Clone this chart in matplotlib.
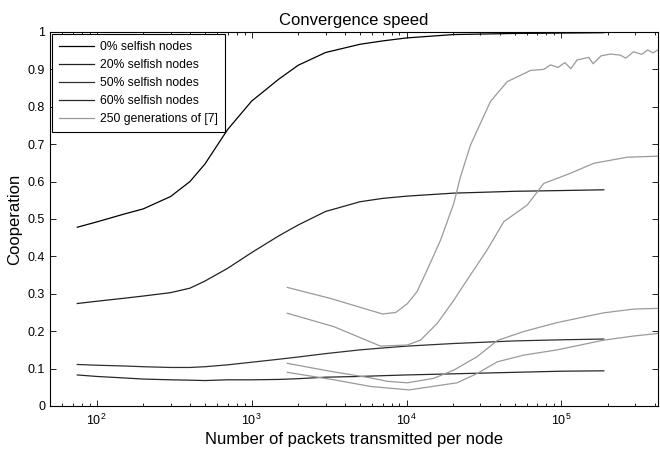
import matplotlib.pyplot as plt
from matplotlib.ticker import LogLocator, FixedLocator

plt.rcParams.update({'font.family': 'Liberation Sans', 'font.size': 9,
                     'mathtext.fontset': 'custom', 'mathtext.rm': 'Liberation Sans',
                     'mathtext.it': 'Liberation Sans'})

# packets transmitted per node (black curves share one grid)
x_black = [75, 100, 150, 200, 300, 400, 500, 700, 1000, 1500, 2000, 3000,
           5000, 7000, 10000, 20000, 50000, 100000, 187500]
coop_0 = [0.478, 0.492, 0.513, 0.527, 0.560, 0.600, 0.647, 0.739, 0.815, 0.874, 0.911, 0.945,
          0.967, 0.976, 0.984, 0.993, 0.996, 0.997, 0.998]
coop_20 = [0.274, 0.280, 0.288, 0.294, 0.303, 0.315, 0.334, 0.368, 0.410, 0.455, 0.484, 0.520,
           0.546, 0.555, 0.561, 0.569, 0.574, 0.576, 0.578]
coop_50 = [0.111, 0.109, 0.107, 0.105, 0.103, 0.103, 0.105, 0.110, 0.117, 0.125, 0.131, 0.140,
           0.150, 0.155, 0.160, 0.167, 0.174, 0.177, 0.179]
coop_60 = [0.083, 0.079, 0.075, 0.072, 0.070, 0.069, 0.068, 0.070, 0.070, 0.071, 0.073, 0.077,
           0.079, 0.081, 0.083, 0.086, 0.090, 0.093, 0.094]

# reference [7], 250 generations
ref_a_x = [1700, 3200, 7000, 8500, 10100, 11700, 13600, 16600, 20200, 22300, 25900, 30000,
           34800, 44600, 63100, 76900, 84900, 95000, 105000, 115000, 126000, 150000, 160000,
           180000, 207000, 240000, 260000, 292000, 330000, 360000, 390000, 420000]
ref_a_y = [0.317, 0.288, 0.246, 0.250, 0.273, 0.306, 0.364, 0.444, 0.542, 0.613, 0.698, 0.756,
           0.814, 0.867, 0.897, 0.900, 0.912, 0.905, 0.918, 0.902, 0.925, 0.932, 0.915,
           0.936, 0.941, 0.938, 0.930, 0.947, 0.940, 0.952, 0.944, 0.952]
ref_b_x = [1700, 3400, 6800, 10100, 12300, 15800, 20200, 24600, 33100, 42500, 60000, 76900,
           114000, 162000, 265000, 420000]
ref_b_y = [0.248, 0.212, 0.160, 0.163, 0.176, 0.221, 0.283, 0.337, 0.417, 0.493, 0.537, 0.595,
           0.622, 0.649, 0.665, 0.668]
ref_c_x = [1700, 3300, 5900, 7500, 10100, 15000, 20200, 28600, 38500, 57000, 93800, 187000,
           292000, 420000]
ref_c_y = [0.114, 0.092, 0.075, 0.066, 0.062, 0.074, 0.096, 0.132, 0.175, 0.199, 0.223, 0.249,
           0.259, 0.261]
ref_d_x = [1700, 3400, 5900, 10400, 21200, 28600, 38500, 57000, 93800, 187000, 292000, 420000]
ref_d_y = [0.090, 0.070, 0.052, 0.043, 0.062, 0.087, 0.118, 0.136, 0.150, 0.176, 0.187, 0.194]

fig = plt.figure(figsize=(6.6, 4.5), dpi=100)
ax = fig.add_axes([0.0758, 0.0978, 0.9212, 0.8312])

ax.plot(x_black, coop_0, color='black', lw=0.9, label='0% selfish nodes')
ax.plot(x_black, coop_20, color='#202020', lw=0.9, label='20% selfish nodes')
ax.plot(x_black, coop_50, color='#303030', lw=0.9, label='50% selfish nodes')
ax.plot(x_black, coop_60, color='#282828', lw=0.9, label='60% selfish nodes')
gray = '#9a9a9a'
ax.plot(ref_a_x, ref_a_y, color=gray, lw=0.9, label='250 generations of [7]')
ax.plot(ref_b_x, ref_b_y, color=gray, lw=0.9)
ax.plot(ref_c_x, ref_c_y, color=gray, lw=0.9)
ax.plot(ref_d_x, ref_d_y, color=gray, lw=0.9)

ax.set_xscale('log')
ax.set_xlim(50, 420000)
ax.set_ylim(0, 1)
ax.yaxis.set_major_locator(FixedLocator([i / 10 for i in range(11)]))
ax.set_yticklabels(['0'] + [f'{i / 10:g}' for i in range(1, 10)] + ['1'])
ax.xaxis.set_major_locator(LogLocator(base=10, numticks=10))
ax.xaxis.set_minor_locator(LogLocator(base=10, subs=range(2, 10), numticks=10))
ax.tick_params(which='both', direction='in', top=True, right=True, width=0.6)
ax.tick_params(which='major', length=4, labelsize=9)
ax.tick_params(axis='x', which='major', pad=5)
ax.tick_params(which='minor', length=2.5)
for s in ax.spines.values():
    s.set_linewidth(0.8)

ax.set_title('Convergence speed', fontsize=12, pad=5)
ax.set_xlabel('Number of packets transmitted per node', fontsize=12, labelpad=3)
ax.set_ylabel('Cooperation', fontsize=12, labelpad=4)

leg = ax.legend(loc='upper left', fontsize=8.7, fancybox=False, framealpha=1,
                edgecolor='black', handlelength=2.9, handletextpad=0.5, borderpad=0.55,
                labelspacing=0.5, borderaxespad=0.2)
leg.get_frame().set_linewidth(0.8)

fig.savefig('out.png', dpi=100)
